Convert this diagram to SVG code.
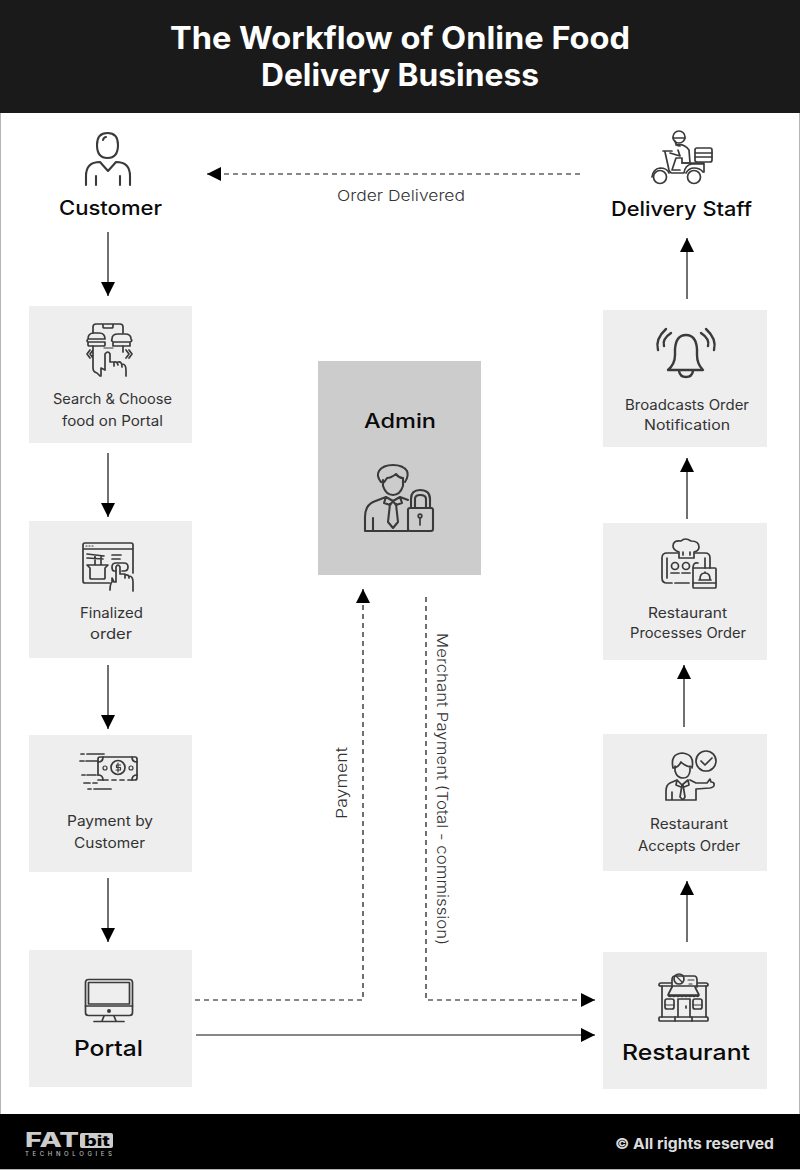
<svg xmlns="http://www.w3.org/2000/svg" width="800" height="1170" viewBox="0 0 800 1170">
<style>
text{font-family:"Inter","Open Sans","Liberation Sans",sans-serif;text-anchor:start}
.box{fill:#eee}
.ic{fill:none;stroke:#3a3a3a;stroke-width:1.7;stroke-linecap:round;stroke-linejoin:round}
.ict{fill:none;stroke:#3a3a3a;stroke-width:1.2;stroke-linecap:round;stroke-linejoin:round}
.thick{stroke-width:2.4}
.mid{stroke-width:2.1}
.s{font-size:14px;font-weight:400;fill:#333}
.h{font-size:20px;font-weight:500;fill:#0a0a0a}
.h2{font-size:22px;font-weight:500;fill:#0a0a0a}
.e{font-size:15px;font-weight:300;fill:#333}
.t{font-size:31px;font-weight:700;fill:#fff}
.ln{fill:none;stroke:#111;stroke-width:1.2}
.da{stroke-dasharray:5 4}
</style>
<defs>
<marker id="ah" markerUnits="userSpaceOnUse" markerWidth="16" markerHeight="14" refX="14" refY="7" orient="auto"><path d="M0 0L14 7L0 14Z" fill="#000"/></marker>
</defs>
<rect width="800" height="1170" fill="#fff"/>
<path d="M0.500 113V1114M799.500 113V1114M0 1169.500H800" stroke="#b5b5b5" fill="none"/>
<g id="header"><rect width="800" height="113" fill="#1a1a1a"/>
<text class="t" x="170" y="49" textLength="460" lengthAdjust="spacingAndGlyphs">The Workflow of Online Food</text>
<text class="t" x="261" y="86" textLength="278" lengthAdjust="spacingAndGlyphs">Delivery Business</text></g>
<g id="footer"><rect y="1114" width="800" height="55" fill="#000"/>
<g id="logo"><text x="25" y="1147" font-size="20" font-weight="800" fill="#ccc" textLength="54" lengthAdjust="spacingAndGlyphs">FAT</text>
<rect x="80" y="1133" width="33" height="15" rx="2" fill="#ccc"/>
<text x="84" y="1146" font-size="14" font-weight="800" fill="#000" textLength="26" lengthAdjust="spacingAndGlyphs">bit</text>
<text x="25" y="1156" font-size="6" font-weight="500" fill="#bbb" textLength="87">TECHNOLOGIES</text></g>
<text x="615" y="1149" font-size="15" font-weight="700" fill="#ddd" textLength="159" lengthAdjust="spacingAndGlyphs">© All rights reserved</text></g>

<g id="connectors">
<path class="ln" d="M108 232V296" marker-end="url(#ah)"/>
<path class="ln" d="M108 453V517" marker-end="url(#ah)"/>
<path class="ln" d="M108 665V729" marker-end="url(#ah)"/>
<path class="ln" d="M108 878V942" marker-end="url(#ah)"/>
<path class="ln" d="M687 942V881" marker-end="url(#ah)"/>
<path class="ln" d="M684 727V665" marker-end="url(#ah)"/>
<path class="ln" d="M687 519V458" marker-end="url(#ah)"/>
<path class="ln" d="M687 299V238" marker-end="url(#ah)"/>
<path class="ln da" d="M580 174H207" marker-end="url(#ah)"/>
<path class="ln da" d="M195 1000H363V589" marker-end="url(#ah)"/>
<path class="ln da" d="M426 597V1000H595" marker-end="url(#ah)"/>
<path class="ln" d="M196 1035H595" marker-end="url(#ah)"/>
<text class="e" x="337" y="201" textLength="128" lengthAdjust="spacingAndGlyphs">Order Delivered</text>
<text class="e" transform="translate(347 819) rotate(-90)" textLength="72" lengthAdjust="spacingAndGlyphs">Payment</text>
<text class="e" transform="translate(437 633) rotate(90)" textLength="312" lengthAdjust="spacingAndGlyphs">Merchant Payment (Total - commission)</text>
</g>

<g id="customer">
<path class="ic mid" d="M97 145Q97 133 107.500 133Q118 133 118 145Q118 158 107.500 158Q97 158 97 145ZM103 140Q104 137 106 137"/>
<path class="ic mid" d="M86 185V176Q86 162 100 162L108 171L116 162Q130 162 130 176V185M96 176V185M120 176V185"/>
<text class="h" x="59" y="215" textLength="103" lengthAdjust="spacingAndGlyphs">Customer</text></g>

<g id="search"><rect class="box" x="29" y="306" width="163" height="137"/>
<path class="ic" d="M93 333V327Q93 324 96 324H120Q123 324 123 327V333M103 324V327Q103 328 105 328H111Q113 328 113 327V324"/>
<path class="ic" d="M88 339Q88 333 94 333H99Q105 333 105 339ZM88 339Q86 341 88 342H105M88 342V345Q88 346 90 346H103Q105 346 105 345V342M112 339Q112 334 118 334H125Q131 334 131 339Q133 341 130 342H113Q111 341 112 339M113 342V346H130V342"/>
<path class="ic" d="M93 346V368Q93 372 97 373L100 376M123 346V352M129 350L132 354L129 358M126 350L129 354L126 358M90 350L87 354L90 358M93 350L90 354L93 358"/>
<path class="ic" d="M101 376V368L105 370V354Q108 350 110 354V362L114 362V366M114 362Q117 361 118 365M118 362Q122 361 122 367M122 364Q126 364 126 370V376"/>
<path class="ict" d="M104 348H113"/>
<text class="s" x="53" y="404" textLength="119" lengthAdjust="spacingAndGlyphs">Search &amp; Choose</text>
<text class="s" x="62" y="426" textLength="101" lengthAdjust="spacingAndGlyphs">food on Portal</text></g>

<g id="finalized"><rect class="box" x="29" y="521" width="163" height="137"/>
<path class="ic" d="M110 583H85Q83 583 83 581V545Q83 543 85 543H131Q133 543 133 545V573M83 549H133"/>
<path class="ict" d="M86 546H87M89 546H90M92 546H93"/>
<path class="ic" d="M87 565H108L105 568V578Q105 579 103 579H92Q90 579 90 578V568ZM87 554L104 556M87 558L103 559M95 556V565M101 556V565"/>
<path class="ic" d="M112 555H121M112 559H120M116 571H114Q112 571 112 567Q112 563 116 563H124Q128 563 128 567Q128 571 124 571H122"/>
<path class="ic" d="M110 590Q110 584 112 582V578L114 582H116V567Q118 563 120 567V574L125 574V578M125 575Q129 574 129 578M129 576Q133 576 133 582V591"/>
<text class="s" x="80" y="618" textLength="63" lengthAdjust="spacingAndGlyphs">Finalized</text>
<text class="s" x="90" y="639" textLength="42" lengthAdjust="spacingAndGlyphs">order</text></g>

<g id="payment"><rect class="box" x="29" y="735" width="163" height="137"/>
<path class="ic" d="M98 775V759Q98 757 100 757H135Q137 757 137 759V778Q137 780 135 780H128M124 780H120M116 780H112M108 780H98"/>
<circle class="ic" cx="118" cy="767.500" r="7"/>
<circle class="ict" cx="105" cy="768" r="2"/><circle class="ict" cx="131" cy="768" r="2"/>
<path class="ic" d="M98 762Q103 762 103 757M137 762Q132 762 132 757M98 775Q103 775 103 780M137 775Q132 775 132 780"/>
<path class="ict" d="M118 763V772M120.500 765H116.500V767.500H120.500V770H116"/>
<path class="ic" d="M81 754H84M87 754H104M80 761H84M86 761H98M82 775H85M87 775H96M84 783H90M93 783H97M88 789H91M94 789H111"/>
<text class="s" x="67" y="826" textLength="86" lengthAdjust="spacingAndGlyphs">Payment by</text>
<text class="s" x="74" y="848" textLength="71" lengthAdjust="spacingAndGlyphs">Customer</text></g>

<g id="portal"><rect class="box" x="29" y="950" width="163" height="137"/>
<rect class="ic" x="85.500" y="979.500" width="47" height="36" rx="3"/>
<rect class="ic" x="88.500" y="982.500" width="41" height="21.500"/>
<path class="ic" d="M85.500 1006H132.500M104 1016L102 1021M114 1016L116 1021M94 1021.500H124"/>
<circle cx="109" cy="1011" r="2" fill="#3a3a3a"/>
<text class="h2" x="74" y="1056" textLength="69" lengthAdjust="spacingAndGlyphs">Portal</text></g>

<g id="admin"><rect x="318" y="361" width="163" height="214" fill="#ccc"/>
<text class="h" x="364" y="428" textLength="72" lengthAdjust="spacingAndGlyphs">Admin</text>
<path class="ic mid" d="M381 482Q376 476 379 471Q383 465 393 465Q403 465 407 471Q409 476 405 482M381 482Q384 483 385 481L387 478Q391 478 396 474Q399 478 403 478V486M383 480V486Q386 495 393 495Q400 495 403 486"/>
<path class="ic mid" d="M386 497L373 502Q365 506 365 517V531H408M373 518V531M386 497L393 501L400 497L408 500M386 497L384 503L390 505L393 501L396 505L402 503L400 497M390 504L388 522L393 528L398 522L396 504"/>
<path class="ic mid" d="M411 508V499Q411 490 420 490Q430 490 430 499V508M415 508V499Q415 495 420 495Q426 495 426 499V508"/>
<rect class="ic mid" x="408" y="508" width="25" height="23" rx="2"/>
<circle class="ic" cx="420" cy="516" r="1.800"/><path class="ic" d="M420 518V525"/></g>

<g id="restaurant"><rect class="box" x="603" y="952" width="164" height="137"/>
<path class="ic" d="M672 983H661Q659 983 659 985Q659 986 661 986H706Q708 986 708 985Q708 983 706 983H697M672 987V980Q672 976 675 976H694Q697 976 697 980V987"/>
<circle class="ic" cx="679" cy="979" r="5"/><path class="ict" d="M676 976L682 982M688 980H694M689 984H692"/>
<path class="ic" d="M672 987L668 995H699L695 987M668 995Q670 998 672 995Q674 998 676 995Q678 998 680 995Q682 998 684 995Q686 998 688 995Q690 998 692 995Q694 998 696 995Q698 998 699 995"/>
<path class="ic" d="M662 986V1017M706 986V1017M678 1017V999H690V1017"/>
<rect class="ic" x="665" y="999" width="9" height="10" rx="2"/><rect class="ic" x="693" y="999" width="9" height="10" rx="2"/>
<path class="ict" d="M665 1005H674M693 1005H702"/>
<rect class="ic" x="659" y="1017" width="49" height="4" rx="1"/>
<path class="ic" d="M675 1017V1021M692 1017V1021M686 1006V1008"/>
<text class="h2" x="622" y="1060" textLength="128" lengthAdjust="spacingAndGlyphs">Restaurant</text></g>

<g id="accepts"><rect class="box" x="603" y="734" width="164" height="137"/>
<path class="ic" d="M673 768Q670 754 682 753Q695 754 692 768M673 768Q678 768 681 762Q686 767 692 767M675 766V771Q677 778 683 778Q689 778 690 771V766"/>
<circle class="ic" cx="706" cy="761" r="10"/><path class="ic" d="M701 761L705 765L712 758"/>
<path class="ic" d="M677 780L670 783Q666 785 666 791V800H696V789L710 788Q715 787 714 784Q714 782 711 782L710 779L707 783H696L690 780M672 792V800M677 780L682 785L688 780M682 785L680 797L683 800L685 797L683 785M677 780L676 785L681 787M688 780L689 785L684 787"/>
<text class="s" x="650" y="829" textLength="78" lengthAdjust="spacingAndGlyphs">Restaurant</text>
<text class="s" x="638" y="851" textLength="102" lengthAdjust="spacingAndGlyphs">Accepts Order</text></g>

<g id="processes"><rect class="box" x="603" y="523" width="164" height="137"/>
<path class="ic" d="M679 558V552Q673 550 673 546Q673 540 681 541Q685 537 691 541Q699 541 699 547Q699 551 694 552V558ZM683 552V555M690 552V555"/>
<path class="ic" d="M678 553H667Q662 553 662 558V578Q662 583 667 583H672M695 553H705Q710 553 710 558V568M667 558V578M705 558V568M675 583H689"/>
<circle class="ic" cx="675" cy="566" r="3.500"/><circle class="ic" cx="686" cy="566" r="3.500"/>
<path class="ic" d="M671 573H679M682 573H690M693 568Q693 562 698 563"/>
<rect class="ic" x="693" y="568" width="23" height="20" rx="1"/>
<path class="ic" d="M693 583H716M699 580H711M700 579Q700 573 705 573Q710 573 710 579M705 573V572"/>
<text class="s" x="648" y="618" textLength="79" lengthAdjust="spacingAndGlyphs">Restaurant</text>
<text class="s" x="630" y="638" textLength="116" lengthAdjust="spacingAndGlyphs">Processes Order</text></g>

<g id="broadcast"><rect class="box" x="603" y="310" width="164" height="137"/>
<path class="ic thick" d="M668 370Q675 364 675 355V349Q676 335 686 335Q696 335 697 349V355Q697 364 703 370ZM679 371Q680 377 686 377Q692 377 693 371"/>
<path class="ic thick" d="M658 350Q655 339 666 329M664 346Q662 339 671 333M714 350Q717 339 706 329M708 346Q710 339 701 333"/>
<text class="s" x="625" y="410" textLength="124" lengthAdjust="spacingAndGlyphs">Broadcasts Order</text>
<text class="s" x="644" y="430" textLength="86" lengthAdjust="spacingAndGlyphs">Notification</text></g>

<g id="delivery">
<circle class="ic" cx="679" cy="137" r="6"/><path class="ic" d="M673 138H685M675 141Q676 146 680 146"/>
<circle class="ic" cx="660" cy="177" r="6.500"/><circle class="ic" cx="694" cy="177" r="6.500"/>
<path class="ic" d="M652 177Q653 169 660 168Q667 168 669 173M686 173Q689 168 694 168Q700 168 703 172"/>
<path class="ic" d="M663 151H672M665 152L669 170Q670 173 672 173H684Q685 165 692 164H704V172M682 163H704"/>
<path class="ic" d="M676 145Q684 143 689 150L690 163H682V158H676L672 170H680M678 150L680 156L670 153"/>
<rect class="ic" x="695" y="148" width="17" height="14" rx="2"/>
<path class="ic" d="M695 153H712M695 157H712"/>
<text class="h" x="611" y="216" textLength="141" lengthAdjust="spacingAndGlyphs">Delivery Staff</text></g>
</svg>
